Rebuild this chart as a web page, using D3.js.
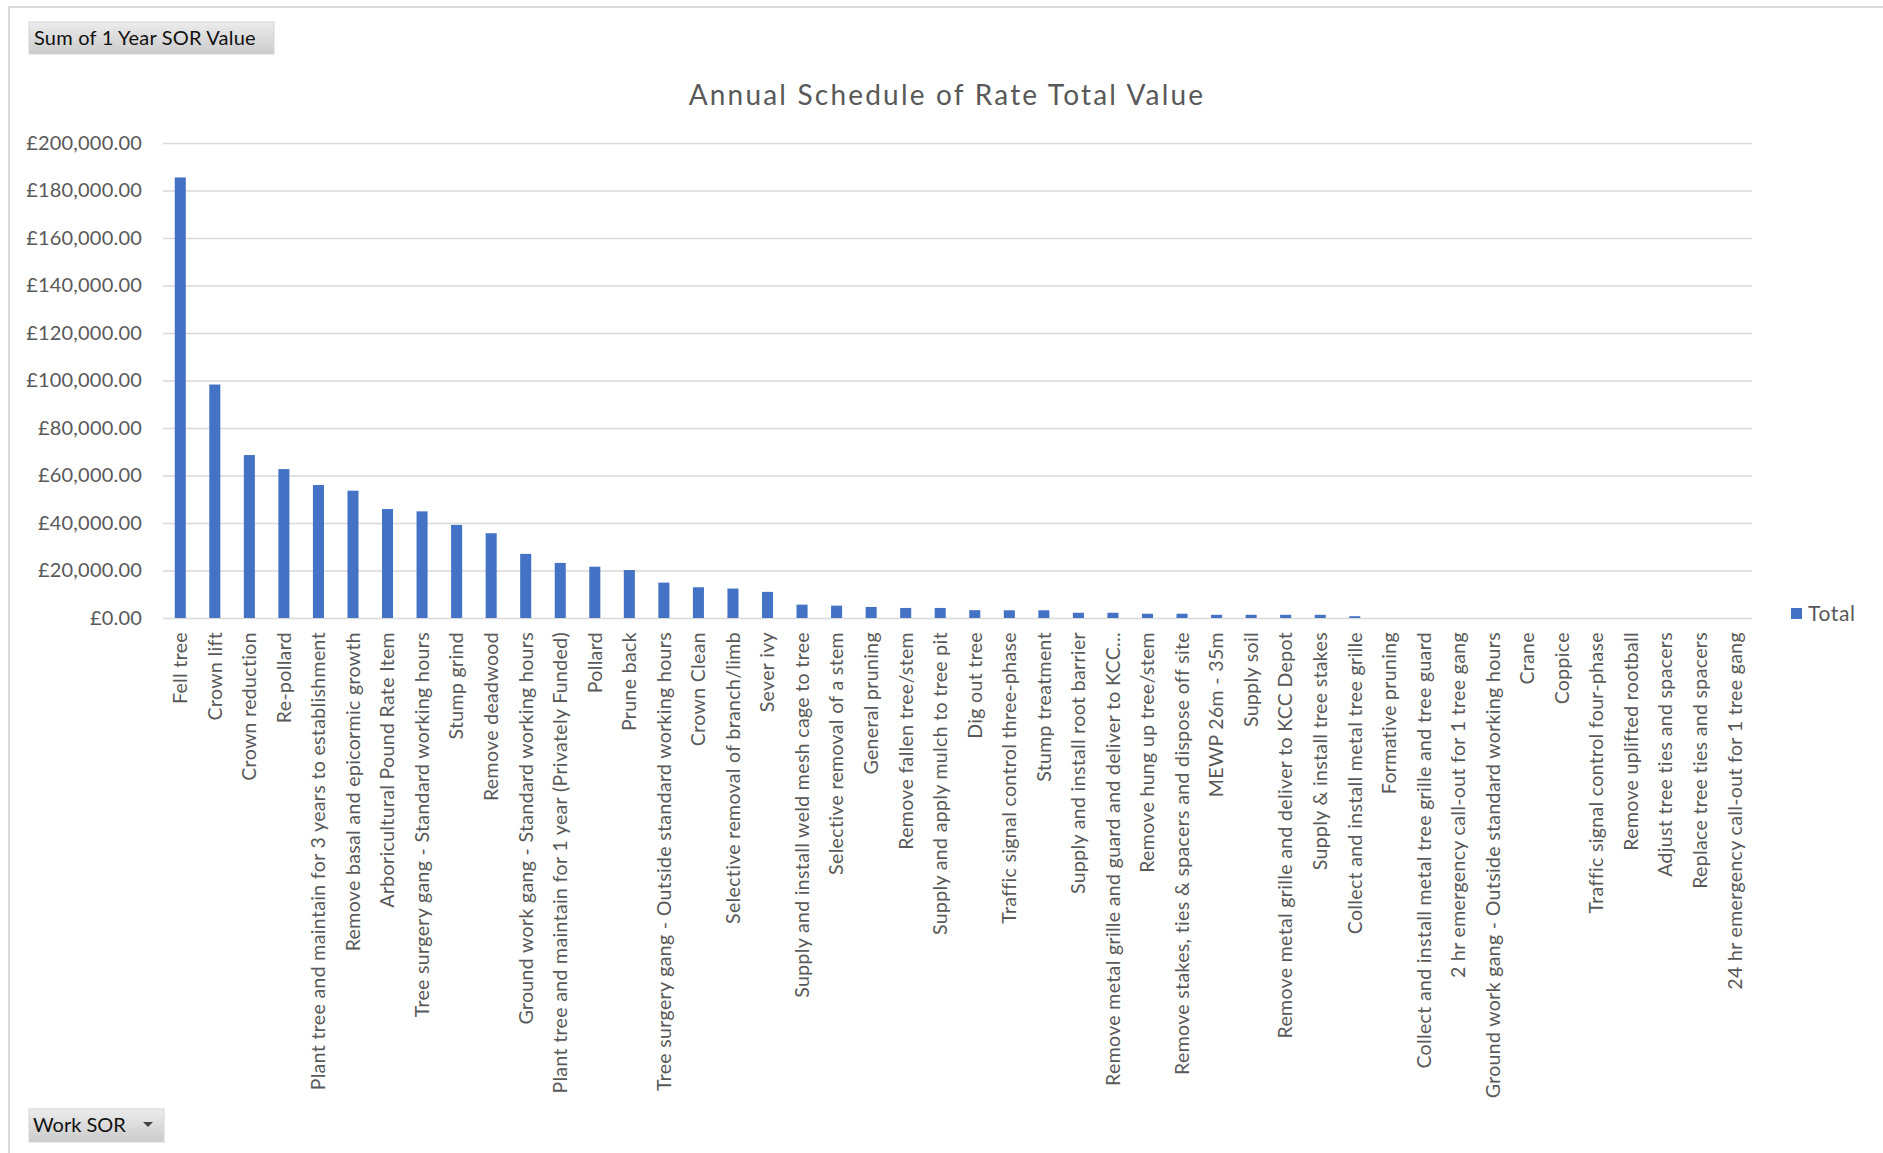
<!DOCTYPE html>
<html>
<head>
<meta charset="utf-8">
<script src="https://cdn.jsdelivr.net/npm/d3@7"></script>
<style>
	body { margin: 0; background: #fff; }
	text { font-family: Lato, 'Noto Sans', sans-serif; }
</style>
</head>
<body>
<div id="chart"></div>
<script>
// categories (Work SOR), in the order Excel sorted them
var categories = [
	'Fell tree', 'Crown lift', 'Crown reduction', 'Re-pollard',
	'Plant tree and maintain for 3 years to establishment', 'Remove basal and epicormic growth',
	'Arboricultural Pound Rate Item', 'Tree surgery gang - Standard working  hours', 'Stump grind',
	'Remove deadwood', 'Ground work gang - Standard working  hours',
	'Plant tree and maintain for 1 year (Privately Funded)', 'Pollard', 'Prune back',
	'Tree surgery gang - Outside standard working hours', 'Crown Clean', 'Selective removal of branch/limb',
	'Sever ivy', 'Supply and install weld mesh cage to tree', 'Selective removal of a stem',
	'General pruning', 'Remove fallen tree/stem', 'Supply and apply mulch to tree pit', 'Dig out tree',
	'Traffic signal control three-phase', 'Stump treatment', 'Supply and install root barrier',
	'Remove metal grille and guard and deliver to KCC…', 'Remove hung up tree/stem',
	'Remove stakes, ties & spacers and dispose off site', 'MEWP 26m - 35m', 'Supply soil',
	'Remove metal grille and deliver to KCC Depot', 'Supply & install tree stakes',
	'Collect and install metal tree grille', 'Formative pruning',
	'Collect and install metal tree grille and tree guard', '2 hr emergency call-out for 1 tree gang',
	'Ground work gang - Outside standard working hours', 'Crane', 'Coppice',
	'Traffic signal control four-phase', 'Remove uplifted rootball', 'Adjust tree ties and spacers',
	'Replace tree ties and spacers', '24 hr emergency call-out for 1 tree gang'
];

// Sum of 1 Year SOR Value
var totals = [
	185500, 98300, 68600, 62700, 56000, 53600, 45900, 44900, 39200, 35700,
	27000, 23200, 21600, 20200, 14900, 12950, 12400, 11000, 5630, 5210,
	4650, 4230, 4230, 3300, 3250, 3250, 2200, 2200, 1800, 1800,
	1350, 1350, 1350, 1350, 750, 0, 0, 0, 0, 0,
	0, 0, 0, 0, 0, 0
];

var yTickValues = [0, 20000, 40000, 60000, 80000, 100000, 120000, 140000, 160000, 180000, 200000];

var seriesName = 'Total';
var chartTitle = 'Annual Schedule of Rate Total Value';
var valueField = 'Sum of 1 Year SOR Value';
var rowField = 'Work SOR';

var width = 1883;
var height = 1153;
var plot = { left: 163, right: 1752, top: 143, bottom: 618 };
var textGray = '#595959';
var gridGray = '#d9d9d9';
var barBlue = '#4472c4';

var svg = d3.select('#chart').append('svg').attr('width', width).attr('height', height);

var defs = svg.append('defs');
var grad = defs.append('linearGradient').attr('id', 'btn').attr('x1', 0).attr('y1', 0).attr('x2', 0).attr('y2', 1);
grad.append('stop').attr('offset', '0%').attr('stop-color', '#ececec');
grad.append('stop').attr('offset', '100%').attr('stop-color', '#cbcbcb');

// chart frame
svg.append('path')
	.attr('d', `M9,${height} V7 H${width}`)
	.attr('fill', 'none')
	.attr('stroke', gridGray)
	.attr('stroke-width', 2);

var x = d3
	.scaleBand()
	.domain(categories)
	.range([ plot.left, plot.right ])
	.paddingInner(0.68)
	.paddingOuter(0.34);

var y = d3
	.scaleLinear()
	.domain([ 0, 200000 ])
	.range([ plot.bottom, plot.top ]);

var money = (d) => '£' + d3.format(',.2f')(d);

// gridlines + y labels
var yAxis = (g) =>
	g
		.attr('transform', `translate(${plot.left},0)`)
		.call(d3.axisLeft(y).tickValues(yTickValues).tickFormat(money).tickSize(-(plot.right - plot.left)).tickPadding(21))
		.call((g) => g.select('.domain').remove())
		.call((g) => g.selectAll('.tick line').attr('stroke', gridGray).attr('stroke-width', 1.6))
		.call((g) =>
			g.selectAll('.tick text')
				.attr('fill', textGray)
				.style('font-size', '20px')
				.style('letter-spacing', '0.2px')
				.style('font-family', 'Lato, sans-serif')
		);

svg.append('g').call(yAxis);

// bars
svg.append('g')
	.selectAll('rect')
	.data(categories)
	.enter()
	.append('rect')
	.attr('x', (d) => x(d))
	.attr('width', x.bandwidth())
	.attr('y', (d, i) => y(totals[i]))
	.attr('height', (d, i) => y(0) - y(totals[i]))
	.attr('fill', barBlue);

// x labels, rotated
var xAxis = (g) =>
	g
		.attr('transform', `translate(0,${plot.bottom})`)
		.call(d3.axisBottom(x).tickSize(0).tickPadding(0))
		.call((g) => g.select('.domain').remove())
		.call((g) =>
			g.selectAll('.tick text')
				.attr('transform', 'rotate(-90)')
				.attr('x', -14)
				.attr('y', 0)
				.attr('dy', '0.35em')
				.attr('text-anchor', 'end')
				.attr('fill', textGray)
				.style('font-size', '19.5px')
				.style('letter-spacing', '0.35px')
				.style('font-family', 'Lato, sans-serif')
		);

svg.append('g').call(xAxis);

// title
svg.append('text')
	.attr('x', 947)
	.attr('y', 105)
	.attr('text-anchor', 'middle')
	.attr('fill', textGray)
	.style('font-size', '28px')
	.style('letter-spacing', '2.2px')
	.text(chartTitle);

// legend
svg.append('rect').attr('x', 1791).attr('y', 608).attr('width', 11).attr('height', 11).attr('fill', barBlue);
svg.append('text')
	.attr('x', 1808)
	.attr('y', 614)
	.attr('dy', '0.35em')
	.attr('fill', textGray)
	.style('font-size', '21px')
	.style('letter-spacing', '0.6px')
	.text(seriesName);

// pivot field buttons
var btnTop = svg.append('g');
btnTop.append('rect').attr('x', 29).attr('y', 22).attr('width', 245).attr('height', 32)
	.attr('fill', 'url(#btn)').attr('stroke', '#d4d4d4');
btnTop.append('text').attr('x', 34).attr('y', 45).attr('fill', '#111').style('font-size', '20px').style('letter-spacing', '0.2px').text(valueField);

var btnBottom = svg.append('g');
btnBottom.append('rect').attr('x', 29).attr('y', 1109).attr('width', 135).attr('height', 33)
	.attr('fill', 'url(#btn)').attr('stroke', '#d4d4d4');
btnBottom.append('text').attr('x', 33).attr('y', 1132).attr('fill', '#111').style('font-size', '20px').text(rowField);
btnBottom.append('path').attr('d', 'M143,1122 L153,1122 L148,1127 Z').attr('fill', '#444');
</script>
</body>
</html>
